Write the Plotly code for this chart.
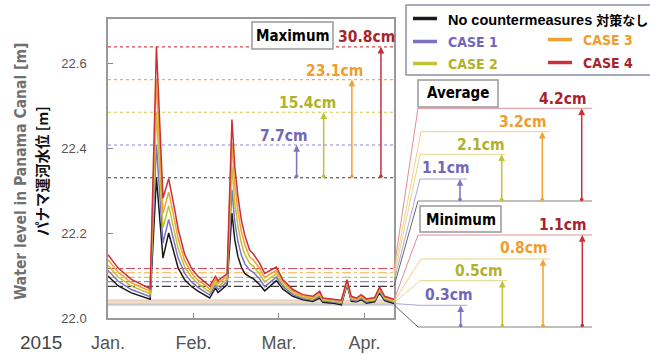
import plotly.graph_objects as go

# ---------------- data ----------------
days = [0.0, 3.5, 8.2, 14.0, 14.8, 17.0, 19.3, 21.3, 22.5, 23.4, 24.6, 26.9, 29.3, 31.6, 33.9, 35.7,
        37.7, 38.6, 41.8, 43.5, 44.5, 45.6, 46.8, 48.0, 49.7, 51.1, 53.2, 55.0, 59.1, 61.4, 64.9,
        68.4, 71.9, 74.3, 75.4, 78.9, 81.9, 83.9, 85.4, 87.2, 88.9, 90.7, 93.6, 95.3, 97.1, 100.4]

no_measures = [22.099, 22.076, 22.059, 22.045, 22.044, 22.330, 22.141, 22.200, 22.170, 22.145, 22.118,
               22.090, 22.074, 22.063, 22.055, 22.047, 22.071, 22.060, 22.078, 22.247, 22.184, 22.145,
               22.120, 22.105, 22.097, 22.092, 22.079, 22.064, 22.088, 22.068, 22.051, 22.043, 22.039,
               22.047, 22.037, 22.035, 22.031, 22.078, 22.039, 22.038, 22.043, 22.035, 22.038, 22.059,
               22.041, 22.034]
case1 = [22.112, 22.087, 22.067, 22.052, 22.050, 22.407, 22.176, 22.232, 22.200, 22.173, 22.141,
         22.105, 22.085, 22.072, 22.063, 22.054, 22.078, 22.067, 22.085, 22.302, 22.227, 22.180,
         22.148, 22.128, 22.113, 22.107, 22.092, 22.074, 22.096, 22.074, 22.055, 22.046, 22.042,
         22.051, 22.040, 22.038, 22.034, 22.081, 22.042, 22.040, 22.046, 22.038, 22.041, 22.063,
         22.044, 22.037]
case2 = [22.124, 22.097, 22.075, 22.058, 22.057, 22.484, 22.212, 22.264, 22.230, 22.200, 22.164,
         22.120, 22.096, 22.081, 22.070, 22.061, 22.085, 22.074, 22.091, 22.357, 22.271, 22.216,
         22.176, 22.150, 22.129, 22.121, 22.104, 22.085, 22.104, 22.079, 22.059, 22.049, 22.045,
         22.055, 22.042, 22.040, 22.037, 22.084, 22.045, 22.043, 22.049, 22.040, 22.043, 22.066,
         22.046, 22.039]
case3 = [22.137, 22.108, 22.083, 22.065, 22.063, 22.561, 22.247, 22.296, 22.260, 22.228, 22.187,
         22.135, 22.106, 22.089, 22.078, 22.068, 22.091, 22.081, 22.098, 22.412, 22.314, 22.251,
         22.203, 22.173, 22.144, 22.136, 22.117, 22.095, 22.112, 22.085, 22.063, 22.052, 22.048,
         22.059, 22.045, 22.043, 22.039, 22.087, 22.048, 22.045, 22.052, 22.043, 22.046, 22.070,
         22.049, 22.042]
case4 = [22.149, 22.118, 22.091, 22.071, 22.069, 22.638, 22.282, 22.328, 22.290, 22.255, 22.210,
         22.150, 22.117, 22.098, 22.085, 22.075, 22.098, 22.088, 22.104, 22.467, 22.357, 22.286,
         22.231, 22.195, 22.160, 22.150, 22.129, 22.105, 22.120, 22.090, 22.067, 22.055, 22.051,
         22.063, 22.047, 22.045, 22.042, 22.090, 22.051, 22.047, 22.055, 22.045, 22.048, 22.073,
         22.051, 22.044]

series_names = ["No countermeasures", "CASE 1", "CASE 2", "CASE 3", "CASE 4"]
max_levels = [22.330, 22.407, 22.484, 22.561, 22.638]
avg_levels = [22.0745, 22.0855, 22.0955, 22.1065, 22.1165]
min_levels = [22.031, 22.034, 22.036, 22.039, 22.042]
max_labels = ["7.7cm", "15.4cm", "23.1cm", "30.8cm"]
avg_labels = ["1.1cm", "2.1cm", "3.2cm", "4.2cm"]
min_labels = ["0.3cm", "0.5cm", "0.8cm", "1.1cm"]
month_ticks = [0, 30, 60, 90]
month_labels = ["Jan.", "Feb.", "Mar.", "Apr."]
y_ticks = [22.0, 22.2, 22.4, 22.6]
year_label = "2015"

# ---------------- styles ----------------
colors = ["#1a1a1a", "#7c73c5", "#c3c134", "#f2a133", "#c9303a"]
text_colors = ["#111111", "#7266ba", "#b2b12b", "#ef9d2c", "#a8242c"]
light_colors = ["#666666", "#aaa5dd", "#dcdb86", "#f7cc86", "#e28c92"]
NARROW = "Liberation Sans Narrow, DejaVu Sans Condensed, Arial Narrow, sans-serif"
SANS = "Liberation Sans, Arial, sans-serif"
CJK = "Noto Sans CJK JP"

FIG_W, FIG_H = 650, 355
L, R, T, B = 108, 394, 19, 318
W, H = R - L, B - T
Y0 = 22.0
Y1 = 22.0 + H / 425.0
X1 = W / 2.849


def fx(px):
    return (px - L) / W


def fy(py):
    return (B - py) / H


def vy(v):
    return (v - Y0) / (Y1 - Y0)


fig = go.Figure()

all_series = [no_measures, case1, case2, case3, case4]

# reference lines inside the plot
for i in range(5):
    fig.add_trace(go.Scatter(x=[0, X1], y=[min_levels[i]] * 2, mode="lines",
                             line=dict(color=colors[i], width=2), opacity=0.2,
                             hoverinfo="skip", showlegend=False))
for i in range(5):
    fig.add_trace(go.Scatter(x=[0, X1], y=[max_levels[i]] * 2, mode="lines",
                             line=dict(color=colors[i], width=1.1, dash="dot"), opacity=0.85,
                             hoverinfo="skip", showlegend=False))
    fig.add_trace(go.Scatter(x=[0, X1], y=[avg_levels[i]] * 2, mode="lines",
                             line=dict(color=colors[i], width=1.1, dash="dashdot"), opacity=0.85,
                             hoverinfo="skip", showlegend=False))

# series
for i in range(5):
    fig.add_trace(go.Scatter(x=days, y=all_series[i], mode="lines", name=series_names[i],
                             line=dict(color=colors[i], width=1.5), showlegend=False))

shapes = []
ann = []


def label(px, py, text, font, **kw):
    d = dict(xref="paper", yref="paper", x=fx(px), y=fy(py), text=text, showarrow=False,
             xanchor="center", yanchor="middle", font=font)
    d.update(kw)
    ann.append(d)


LBL_SIZE = 15.5
BOX_SIZE = 15

# ---- Maximum panel (inside plot) ----
shapes.append(dict(type="rect", xref="paper", yref="paper", x0=fx(252), x1=fx(333), y0=fy(22), y1=fy(49),
                   line=dict(color="#999999", width=1.5), fillcolor="white", layer="above"))
label(292.5, 36, "<b>Maximum</b>", dict(family=NARROW, size=BOX_SIZE, color="#000000"))
max_arrow_days = [66.2, 75.7, 85.6, 95.8]
max_label_px = [(284, 136), (307, 103), (334, 71), (366, 37)]
for k in range(4):
    ann.append(dict(xref="x", yref="y", x=max_arrow_days[k], y=max_levels[k + 1], axref="x", ayref="y",
                    ax=max_arrow_days[k], ay=max_levels[0], text="", showarrow=True,
                    arrowhead=2, arrowsize=0.9, arrowwidth=1.5, arrowcolor=colors[k + 1],
                    arrowside="end+start", startarrowhead=6, startarrowsize=0.6,
                    standoff=0, startstandoff=0))
    label(max_label_px[k][0], max_label_px[k][1], "<b>%s</b>" % max_labels[k],
          dict(family=NARROW, size=LBL_SIZE, color=text_colors[k + 1]))


# ---- side panels (Average / Minimum) ----
def side_panel(levels, labels, title, box, line_ys, line_right, arrow_xs, base_y, label_px, title_px):
    lefts = [418, 420, 420, 421, 418]
    for i in range(5):
        tgt_y = base_y if i == 0 else line_ys[i - 1]
        shapes.append(dict(type="line", xref="paper", yref="paper", x0=1.0, y0=vy(levels[i]),
                           x1=fx(lefts[i]), y1=fy(tgt_y),
                           line=dict(color=light_colors[i], width=1)))
    shapes.append(dict(type="line", xref="paper", yref="paper", x0=fx(418), x1=fx(592),
                       y0=fy(base_y), y1=fy(base_y), line=dict(color="#aaaaaa", width=1.5)))
    for k in range(4):
        shapes.append(dict(type="line", xref="paper", yref="paper", x0=fx(lefts[k + 1]), x1=fx(line_right[k]),
                           y0=fy(line_ys[k]), y1=fy(line_ys[k]),
                           line=dict(color=light_colors[k + 1], width=1)))
        ann.append(dict(xref="paper", yref="paper", x=fx(arrow_xs[k]), y=fy(line_ys[k]),
                        ax=0, ay=base_y - line_ys[k], text="", showarrow=True,
                        arrowhead=2, arrowsize=0.9, arrowwidth=1.5, arrowcolor=colors[k + 1],
                        arrowside="end+start", startarrowhead=6, startarrowsize=0.6,
                        standoff=0, startstandoff=0))
        label(label_px[k][0], label_px[k][1], "<b>%s</b>" % labels[k],
              dict(family=NARROW, size=LBL_SIZE, color=text_colors[k + 1]))
    shapes.append(dict(type="rect", xref="paper", yref="paper", x0=fx(box[0]), x1=fx(box[1]),
                       y0=fy(box[2]), y1=fy(box[3]), line=dict(color="#999999", width=1.5),
                       fillcolor="white"))
    label(title_px[0], title_px[1], "<b>%s</b>" % title, dict(family=NARROW, size=BOX_SIZE, color="#000000"))


side_panel(avg_levels, avg_labels, "Average", (418, 498, 80, 107),
           [179, 154.3, 131.7, 108.3], [467, 505, 550, 592], [460, 501.7, 542.3, 581.7], 201,
           [(446, 168), (481, 145), (523, 122), (563, 99)], (458, 93.5))
side_panel(min_levels, min_labels, "Minimum", (420, 501, 206, 232),
           [305.3, 280.7, 259, 235], [467, 507, 550, 592], [460.7, 502.3, 543, 582.3], 327,
           [(449, 295), (479, 271), (524, 248), (563, 225)], (460.5, 219.5))

# ---- legend box ----
shapes.append(dict(type="rect", xref="paper", yref="paper", x0=fx(406), x1=fx(664), y0=fy(5), y1=fy(75),
                   line=dict(color="#8a90a6", width=1.5), fillcolor="white"))
leg_pos = [(413, 18.5, 446), (413, 41.5, 446), (413, 63.5, 446), (548, 39.5, 581), (548, 62.5, 581)]
for i in range(5):
    lx, ly, tx = leg_pos[i]
    shapes.append(dict(type="line", xref="paper", yref="paper", x0=fx(lx), x1=fx(lx + 24),
                       y0=fy(ly), y1=fy(ly), line=dict(color=colors[i], width=3.5)))
    if i == 0:
        txt = "<b>%s</b> <span style='font-family:%s;font-size:13px'><b>対策なし</b></span>" % (series_names[i], CJK)
        fnt = dict(family=SANS, size=14.5, color="#000000")
    else:
        txt = "<b>%s</b>" % series_names[i]
        fnt = dict(family=NARROW, size=14, color=text_colors[i])
    label(tx, ly + 0.5, txt, fnt, xanchor="left")

# ---- axis titles / year ----
label(21, 172, "<b>Water level in Panama Canal [m]</b>", dict(family=NARROW, size=15.5, color="#707070"),
      textangle=-90)
label(41, 171, "<b>パナマ運河水位 [m]</b>", dict(family=CJK, size=14.5, color="#111111"), textangle=-90)
label(41, 342, year_label, dict(family=SANS, size=19, color="#444444"))

fig.update_layout(
    width=FIG_W, height=FIG_H, autosize=False,
    margin=dict(l=L, r=FIG_W - R, t=T, b=FIG_H - B, pad=0),
    paper_bgcolor="white", plot_bgcolor="white",
    shapes=shapes, annotations=ann, showlegend=False,
    xaxis=dict(range=[0, X1], tickvals=month_ticks, ticktext=month_labels, showgrid=False, zeroline=False,
               ticks="inside", ticklen=5, tickcolor="#888888", showline=True, mirror=True,
               linecolor="#999999", linewidth=1.5, tickfont=dict(family=SANS, size=18, color="#555555"),
               ticklabelstandoff=8, automargin=False),
    yaxis=dict(range=[Y0, Y1], tickvals=y_ticks, ticktext=["22.0", "22.2", "22.4", "22.6"], showgrid=False,
               zeroline=False, ticks="inside", ticklen=5, tickcolor="#888888", showline=True, mirror=True,
               linecolor="#999999", linewidth=1.5, tickfont=dict(family=SANS, size=13, color="#555555"),
               ticklabelstandoff=17, automargin=False),
)

fig.write_html("out.html")
